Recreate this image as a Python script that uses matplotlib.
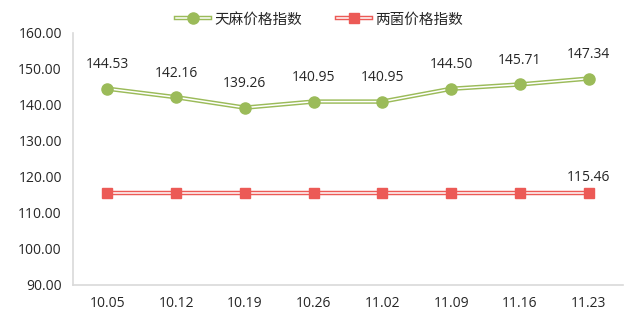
import matplotlib
matplotlib.use("Agg")
import matplotlib.pyplot as plt
from matplotlib.lines import Line2D
from matplotlib.legend_handler import HandlerTuple

plt.rcParams['font.family'] = ['Open Sans', 'Noto Sans CJK SC', 'DejaVu Sans']

dates = ["10.05", "10.12", "10.19", "10.26", "11.02", "11.09", "11.16", "11.23"]
tianma = [144.53, 142.16, 139.26, 140.95, 140.95, 144.50, 145.71, 147.34]
liangjun = [115.46, 115.46, 115.46, 115.46, 115.46, 115.46, 115.46, 115.46]
series_names = ["天麻价格指数", "两菌价格指数"]

green = "#9bbb59"
red = "#ec5a56"
text_color = "#262626"
axis_color = "#d9d9d9"

OUTER_LW = 3.2
INNER_LW = 1.1

fig = plt.figure(figsize=(6.39, 3.24), dpi=100)
ax = fig.add_axes([73 / 639, 1 - 285 / 324, 550 / 639, 252 / 324])

x = list(range(len(dates)))


def double_line(values, color, marker, msize):
    ax.plot(x, values, color=color, lw=OUTER_LW, solid_capstyle="butt", zorder=2)
    ax.plot(x, values, color="white", lw=INNER_LW, solid_capstyle="butt", zorder=3)
    ax.plot(x, values, ls="none", marker=marker, ms=msize, color=color,
            markeredgecolor=color, zorder=4)


double_line(tianma, green, "o", 8)
double_line(liangjun, red, "s", 7.3)

for xi, v in zip(x, tianma):
    ax.annotate(f"{v:.2f}", (xi, v), xytext=(0, 24), textcoords="offset pixels",
                ha="center", va="center", fontsize=10, color=text_color)
ax.annotate(f"{liangjun[-1]:.2f}", (x[-1], liangjun[-1]), xytext=(0, 16),
            textcoords="offset pixels", ha="center", va="center",
            fontsize=10, color=text_color)

ax.set_xlim(-0.5, len(dates) - 0.5)
ax.set_ylim(90, 160)
ax.set_yticks(range(90, 161, 10))
ax.set_yticklabels([f"{t:.2f}" for t in range(90, 161, 10)])
ax.set_xticks(x)
ax.set_xticklabels(dates)
ax.tick_params(axis="both", length=0, labelsize=10, colors=text_color)
ax.tick_params(axis="y", pad=8)
ax.tick_params(axis="x", pad=8)

for side in ("top", "right"):
    ax.spines[side].set_visible(False)
for side in ("left", "bottom"):
    ax.spines[side].set_color(axis_color)
    ax.spines[side].set_linewidth(1.2)


def legend_handle(color, marker, msize):
    return (Line2D([], [], color=color, lw=OUTER_LW),
            Line2D([], [], color="white", lw=INNER_LW),
            Line2D([], [], ls="none", marker=marker, ms=msize, color=color))


handles = [legend_handle(green, "o", 8), legend_handle(red, "s", 7.3)]
fig.legend(handles, series_names, loc="center", bbox_to_anchor=(0.5, 1 - 20 / 324),
           ncol=2, frameon=False, fontsize=10.5, handlelength=2.3,
           handler_map={tuple: HandlerTuple(ndivide=1, pad=0)},
           columnspacing=2.4, handletextpad=0.3, labelcolor=text_color)

fig.savefig("out.png", dpi=100)
